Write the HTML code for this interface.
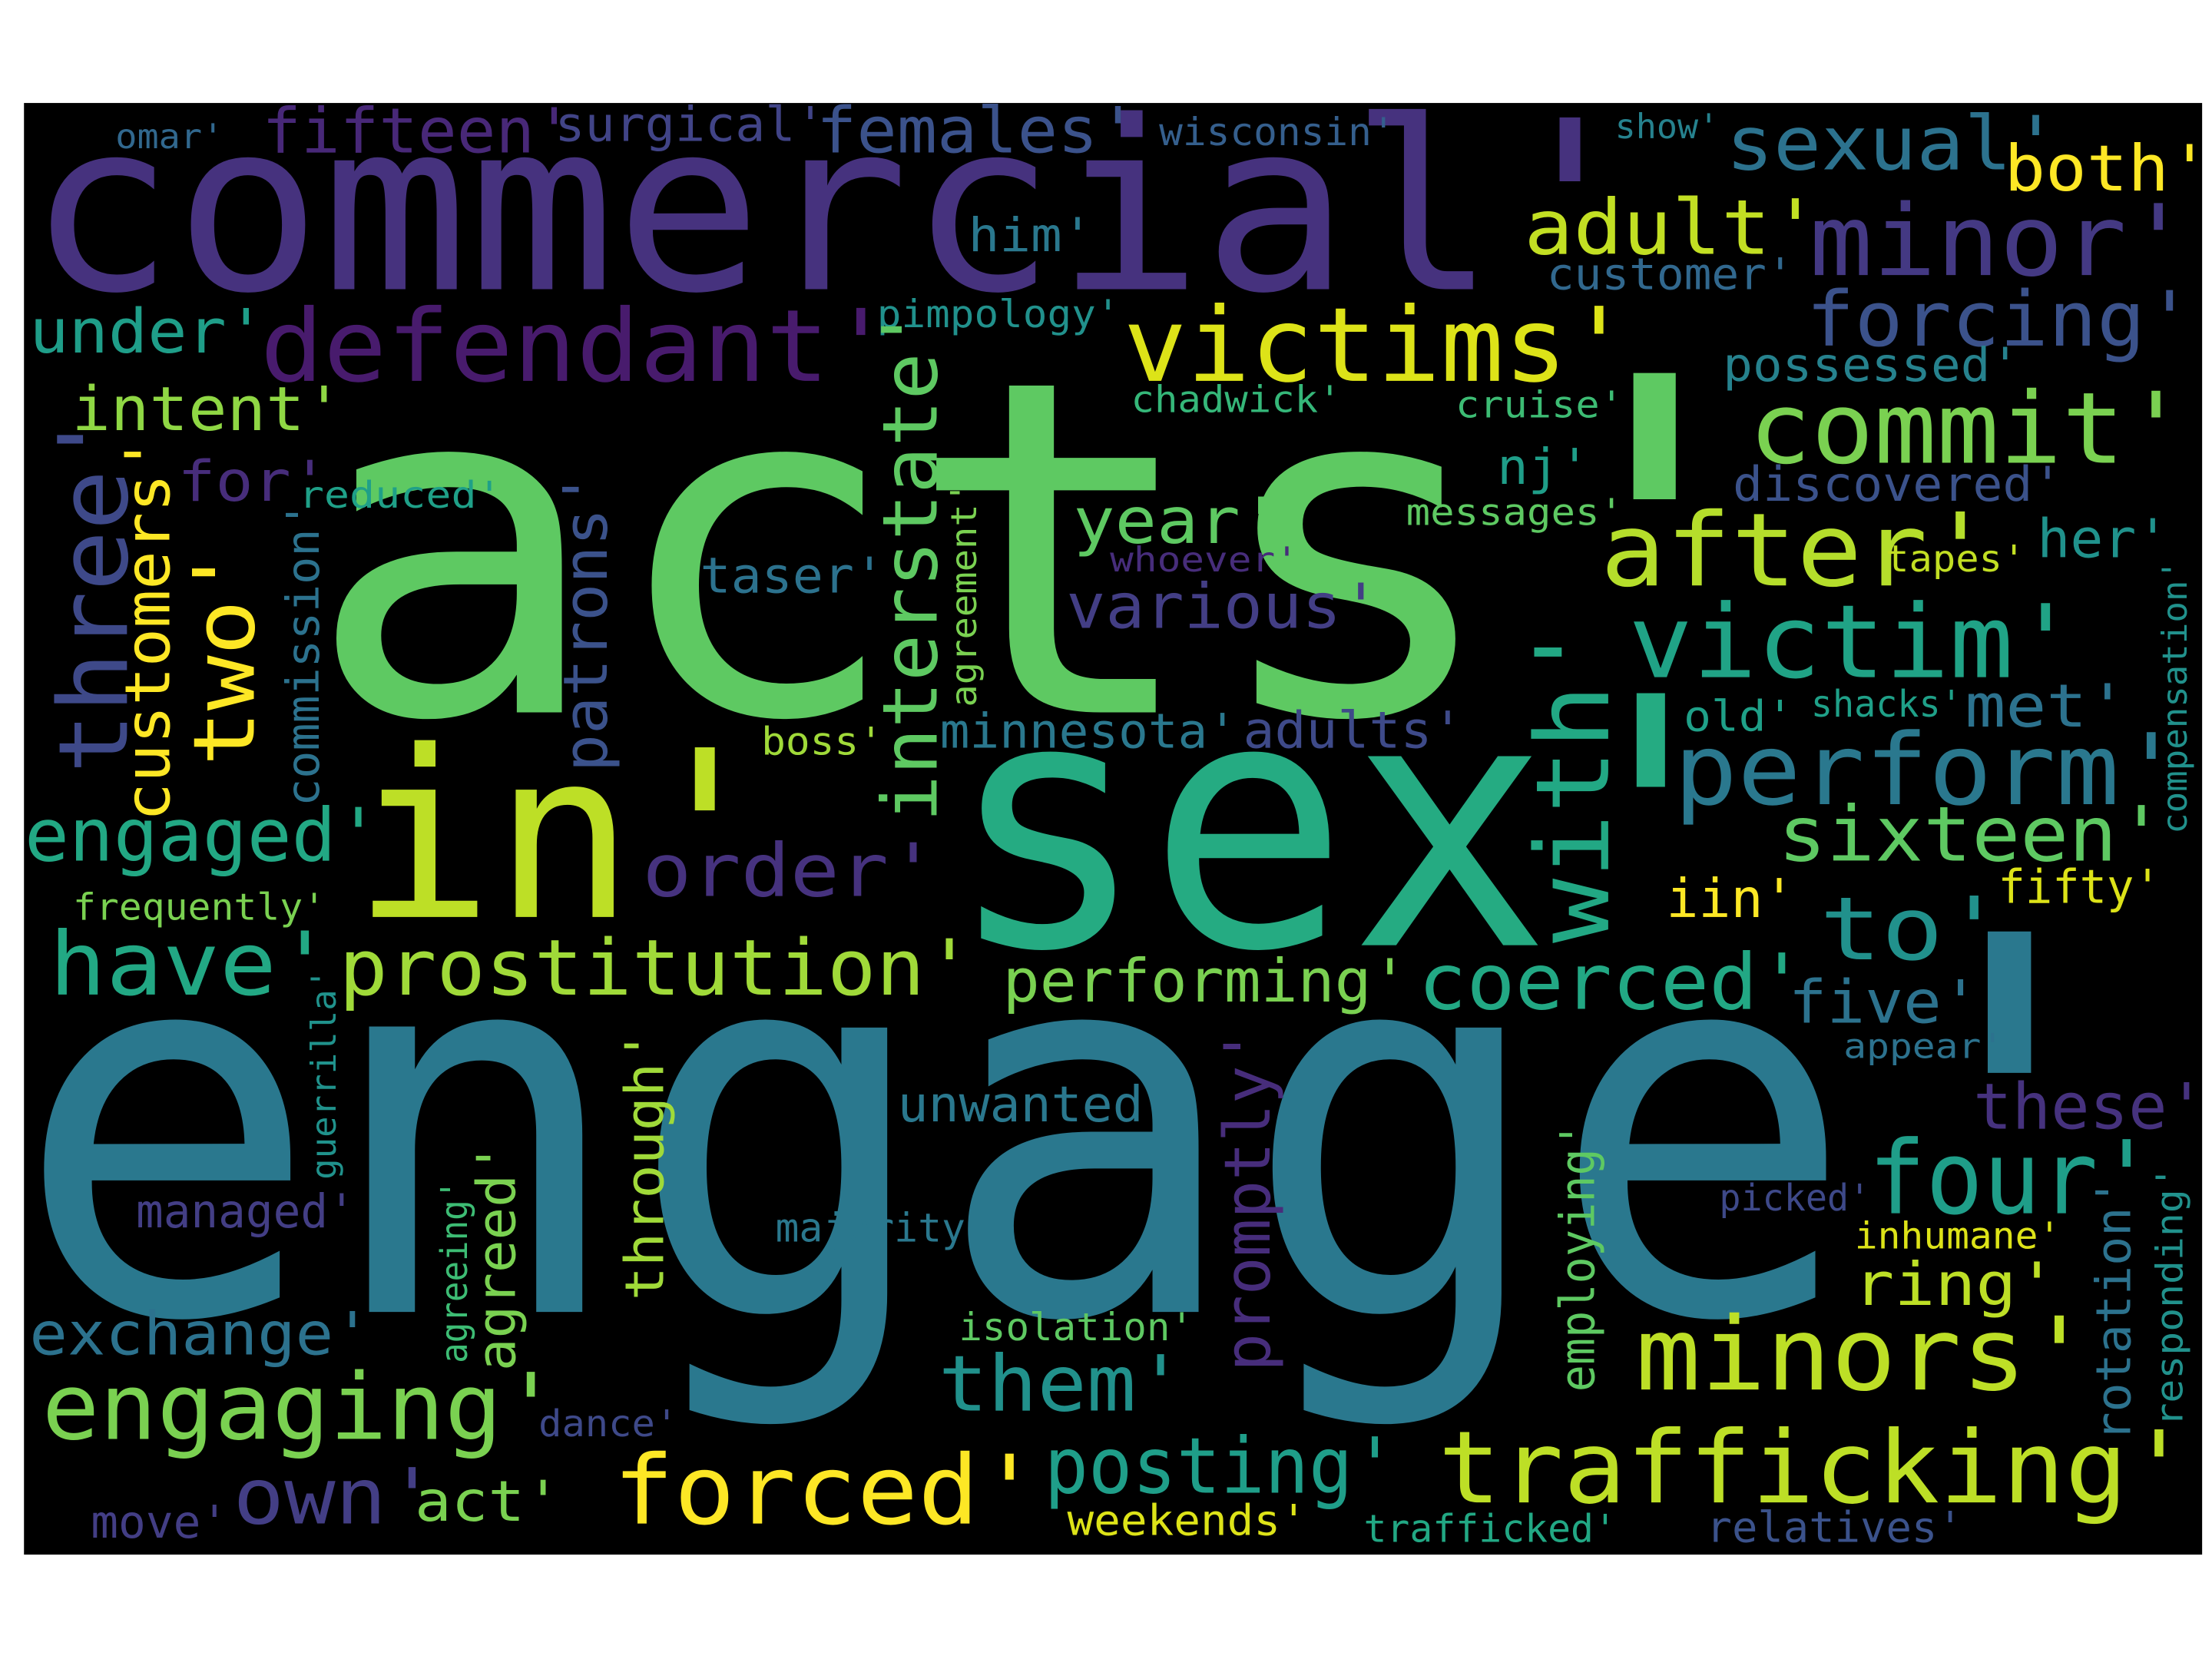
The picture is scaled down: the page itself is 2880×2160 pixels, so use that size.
<!DOCTYPE html>
<html><head><meta charset="utf-8"><style>
html,body{margin:0;padding:0;background:#fff;width:2880px;height:2160px;overflow:hidden}
svg{display:block}
text{font-family:"DejaVu Sans Mono","Liberation Mono",monospace}
</style></head><body>
<svg id="cloud" width="2880" height="2160" viewBox="0 0 1568 1176" preserveAspectRatio="none" xmlns="http://www.w3.org/2000/svg">
<rect x="17" y="73" width="1544" height="1029" fill="#000"/>
<g id="words"></g>
</svg>
<script>
// word, font size (weight), color, layout [left, baseline, right] or vertical [baselineX, bottom, top]
const words = ["commercial'","acts'","engage'","sex'","in'","victims'","defendant'","fifteen'","surgical'","females'","omar'","wisconsin'","show'","sexual'","both'","adult'","minor'","him'","customer'","forcing'","pimpology'","under'","possessed'","commit'","intent'","chadwick'","cruise'","for'","reduced'","nj'","discovered'","messages'","year'","after'","her'","whoever'","tapes'","taser'","various'","victim'","boss'","minnesota'","adults'","old'","shacks'","met'","perform'","engaged'","order'","sixteen'","frequently'","iin'","to'","fifty'","have'","prostitution'","coerced'","performing'","five'","appear'","unwanted'","these'","four'","managed'","majority'","picked'","inhumane'","ring'","exchange'","isolation'","minors'","them'","engaging'","dance'","posting'","trafficking'","forced'","own'","act'","move'","weekends'","trafficked'","relatives'"];
const sizes = [167,330,370,245,165,73,71,44,34,45,24,27,24,53,45,54,70,33,31,54,27,43,33,70,43,26,26,40,26,35,34,26,45,72,38,24,26,35,44,72,27,34,36,30,26,42,70,52,52,54,26,38,62,33,62,55,55,42,42,24,35,45,72,33,28,26,26,42,42,27,72,55,65,26,55,71,68,55,40,32,30,27,30];
const colors = ["#46327e","#5ec962","#2a788e","#25ab82","#bddf26","#dde318","#481b6d","#482878","#414487","#3b528b","#31688e","#355f8d","#26828e","#2c728e","#fde725","#c2df23","#443983","#2a788e","#31688e","#3b528b","#21918c","#1f9e89","#26828e","#7ad151","#8fd744","#35b779","#3dbc74","#472d7b","#1fa088","#1f9e89","#3b528b","#5ec962","#5ec962","#b5de2b","#20928c","#472d7b","#c2df23","#2c728e","#433e85","#20a386","#a0da39","#2a788e","#3e4a89","#1fa088","#1fa088","#2c728e","#2a788e","#22a884","#46327e","#5ec962","#7ad151","#fde725","#21918c","#dde318","#22a884","#a0da39","#22a884","#7ad151","#2c728e","#2c728e","#2a788e","#46327e","#1f9e89","#433e85","#2a788e","#3e4989","#dde318","#bddf26","#2c728e","#5ec962","#bddf26","#21918c","#7ad151","#3e4989","#1f9e89","#bddf26","#fde725","#433e85","#7ad151","#433e85","#dde318","#22a884","#3b528b"];
const layout = [[28,205,1140],[232,505,1230],[28,930,1478],[683,670,1205],[258,650,525],[800,270,1145],[188,270,622],[188,108,400],[395,100,580],[581,108,800],[83,105,155],[823,103,985],[1146,98,1215],[1226,120,1452],[1423,135,1560],[1083,180,1282],[1286,195,1542],[688,178,770],[1098,205,1267],[1283,245,1547],[623,232,790],[23,250,182],[1223,270,1427],[1243,328,1540],[53,305,237],[803,292,947],[1033,296,1147],[128,355,227],[213,360,352],[1063,343,1122],[1230,355,1457],[998,372,1147],[763,385,902],[1138,415,1402],[1446,395,1532],[788,405,917],[1338,405,1432],[498,420,622],[758,445,972],[1158,480,1462],[541,535,622],[668,530,872],[883,530,1032],[1195,518,1267],[1285,508,1387],[1395,515,1502],[1190,570,1537],[20,610,262],[458,635,657],[1263,610,1527],[53,652,227],[1183,650,1267],[1293,680,1412],[1418,640,1527],[38,705,227],[243,705,682],[1008,715,1272],[713,710,992],[1270,725,1397],[1308,750,1417],[638,795,827],[1401,800,1557],[1328,860,1517],[98,870,247],[551,880,697],[1220,858,1322],[1316,885,1457],[1316,925,1452],[23,960,257],[681,950,842],[1163,985,1472],[668,1000,832],[33,1020,387],[383,1018,477],[743,1058,982],[1023,1065,1542],[438,1080,727],[168,1080,302],[296,1078,392],[66,1090,157],[758,1088,922],[968,1093,1142],[1211,1093,1387]];
// vertical words: word, size, color, [baselineX, bottom, top]
const vWords = ["three'","customers'","two'","commission'","patrons'","interstate'","agreement'","compensation'","with'","guerrilla'","through'","promptly'","agreed'","employing'","agreeing'","rotation'","responding'"];
const vSizes = [68,44,60,32,43,54,25,24,72,24,38,45,38,34,26,34,26];
const vColors = ["#3e4989","#fde725","#fde725","#2c728e","#3b528b","#5ec962","#7ad151","#21918c","#22a884","#20928c","#a0da39","#472d7b","#7ad151","#5ec962","#3dbc74","#2c728e","#21918c"];
const vLayout = [[90,545,300],[120,580,315],[180,540,395],[226,570,360],[430,545,340],[664,580,225],[692,500,345],[1550,590,400],[1140,665,450],[238,835,690],[470,920,735],[900,970,735],[365,970,815],[1130,985,800],[331,965,840],[1510,1020,840],[1547,1010,830]];

const NS = "http://www.w3.org/2000/svg";
const g = document.getElementById('words');
function slug(w){return w.replace(/[^a-z]/gi,'').toLowerCase();}
words.forEach((w,i)=>{
  const [l,b,r] = layout[i];
  const fs = sizes[i];
  const t = document.createElementNS(NS,'text');
  t.setAttribute('x', l - 0.05*fs);
  t.setAttribute('y', b);
  t.setAttribute('font-size', fs);
  t.setAttribute('fill', colors[i]);
  t.setAttribute('textLength', (r-l) + 0.2*fs);
  t.setAttribute('lengthAdjust','spacingAndGlyphs');
  t.textContent = w;
  
  
  g.appendChild(t);
});
vWords.forEach((w,i)=>{
  const [bx,bottom,top] = vLayout[i];
  const fs = vSizes[i];
  const t = document.createElementNS(NS,'text');
  t.setAttribute('transform', 'translate(' + bx + ',' + (bottom + 0.05*fs) + ') rotate(-90)');
  t.setAttribute('x', 0);
  t.setAttribute('y', 0);
  t.setAttribute('font-size', fs);
  t.setAttribute('fill', vColors[i]);
  t.setAttribute('textLength', (bottom-top) + 0.2*fs);
  t.setAttribute('lengthAdjust','spacingAndGlyphs');
  t.textContent = w;
  
  
  g.appendChild(t);
});
</script>
</body></html>
